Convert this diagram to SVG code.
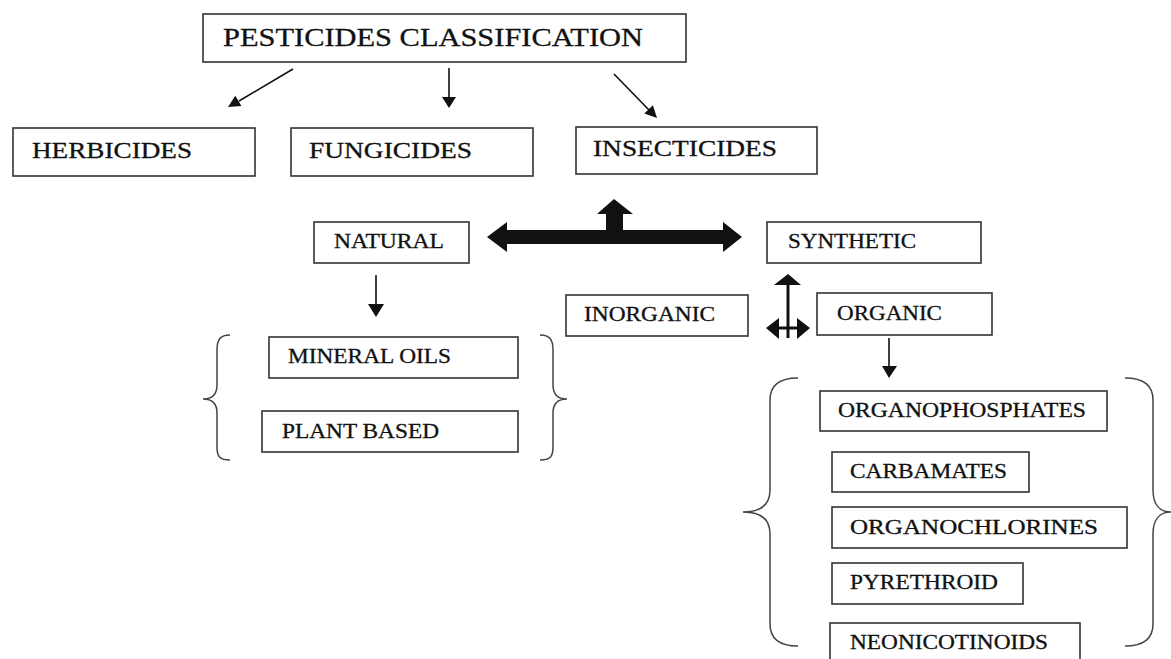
<svg xmlns="http://www.w3.org/2000/svg" width="1171" height="659" viewBox="0 0 1171 659">
<defs>
<style>
.box{fill:#fff;stroke:#333;stroke-width:1.6}
.t{font-family:"Liberation Serif","Times New Roman",serif;fill:#111;stroke:#111;stroke-width:0.3}
.big{font-size:25px}
.mid{font-size:23px}
.sm{font-size:20px}
.ln{stroke:#111;stroke-width:1.6;fill:none}
.br{stroke:#444;stroke-width:1.5;fill:none}
.hd{fill:#111}
</style>
</defs>
<rect width="1171" height="659" fill="#fff"/>
<g id="connectors">
<line class="ln" x1="293" y1="69" x2="239" y2="101"/>
<polygon class="hd" points="228,107 235.3,95.8 241.4,106.1"/>
<line class="ln" x1="449" y1="68" x2="449" y2="98"/>
<polygon class="hd" points="449,108 442,97 456,97"/>
<line class="ln" x1="614" y1="74" x2="649" y2="110"/>
<polygon class="hd" points="657,118 644.3,113.6 652.9,105.2"/>
<polygon class="hd" points="487,237 507,222 507,230 606,230 606,214 597,214 614,199 633,214 623,214 623,230 723,230 723,222 742,237 723,252 723,244 507,244 507,252"/>
<line class="ln" x1="376" y1="275" x2="376" y2="306"/>
<polygon class="hd" points="376,317 368,304 384,304"/>
<line x1="788" y1="284" x2="788" y2="338" stroke="#111" stroke-width="3"/>
<polygon class="hd" points="788,274 774,285 801,285"/>
<line x1="778" y1="328" x2="798" y2="328" stroke="#111" stroke-width="3"/>
<polygon class="hd" points="766,328 779,318 779,339"/>
<polygon class="hd" points="810,328 797,318 797,339"/>
<line class="ln" x1="889" y1="338" x2="889" y2="368"/>
<polygon class="hd" points="889,378 882,366 897,366"/>
<path class="br" d="M230,335 C220,335 217,340 217,350 L217,385 C217,395 212,399 203,399 C212,399 217,403 217,413 L217,447 C217,457 220,460 230,460"/>
<path class="br" d="M540,335 C550,335 553,340 553,350 L553,385 C553,395 558,399 567,399 C558,399 553,403 553,413 L553,447 C553,457 550,460 540,460"/>
<path class="br" d="M798,378 C780,378 770,385 770,400 L770,490 C770,505 760,512 743,512 C760,512 770,519 770,534 L770,624 C770,639 780,646 798,646"/>
<path class="br" d="M1125,378 C1143,378 1153,385 1153,400 L1153,490 C1153,505 1160,512 1171,512 C1160,512 1153,519 1153,534 L1153,624 C1153,639 1143,646 1125,646"/>
</g>
<g id="pesticides"><rect class="box" x="203" y="14" width="483" height="48"/><text class="t big" x="223" y="46" textLength="420" lengthAdjust="spacingAndGlyphs">PESTICIDES CLASSIFICATION</text></g>
<g id="herbicides"><rect class="box" x="13" y="128" width="242" height="48"/><text class="t mid" x="32" y="158" textLength="160" lengthAdjust="spacingAndGlyphs">HERBICIDES</text></g>
<g id="fungicides"><rect class="box" x="291" y="128" width="242" height="48"/><text class="t mid" x="309" y="158" textLength="163" lengthAdjust="spacingAndGlyphs">FUNGICIDES</text></g>
<g id="insecticides"><rect class="box" x="576" y="127" width="241" height="47"/><text class="t mid" x="593" y="156" textLength="184" lengthAdjust="spacingAndGlyphs">INSECTICIDES</text></g>
<g id="natural"><rect class="box" x="314" y="222" width="155" height="41"/><text class="t sm" x="334" y="248" textLength="110" lengthAdjust="spacingAndGlyphs">NATURAL</text></g>
<g id="synthetic"><rect class="box" x="767" y="222" width="214" height="41"/><text class="t sm" x="788" y="248" textLength="128" lengthAdjust="spacingAndGlyphs">SYNTHETIC</text></g>
<g id="inorganic"><rect class="box" x="566" y="295" width="182" height="41"/><text class="t sm" x="584" y="321" textLength="131" lengthAdjust="spacingAndGlyphs">INORGANIC</text></g>
<g id="organic"><rect class="box" x="817" y="293" width="175" height="42"/><text class="t sm" x="837" y="320" textLength="105" lengthAdjust="spacingAndGlyphs">ORGANIC</text></g>
<g id="mineral-oils"><rect class="box" x="269" y="337" width="249" height="41"/><text class="t sm" x="288" y="363" textLength="163" lengthAdjust="spacingAndGlyphs">MINERAL OILS</text></g>
<g id="plant-based"><rect class="box" x="262" y="411" width="256" height="41"/><text class="t sm" x="282" y="438" textLength="157" lengthAdjust="spacingAndGlyphs">PLANT BASED</text></g>
<g id="organophosphates"><rect class="box" x="820" y="391" width="287" height="40"/><text class="t sm" x="838" y="417" textLength="248" lengthAdjust="spacingAndGlyphs">ORGANOPHOSPHATES</text></g>
<g id="carbamates"><rect class="box" x="832" y="452" width="197" height="40"/><text class="t sm" x="850" y="478" textLength="157" lengthAdjust="spacingAndGlyphs">CARBAMATES</text></g>
<g id="organochlorines"><rect class="box" x="832" y="507" width="295" height="41"/><text class="t sm" x="850" y="534" textLength="248" lengthAdjust="spacingAndGlyphs">ORGANOCHLORINES</text></g>
<g id="pyrethroid"><rect class="box" x="832" y="563" width="191" height="41"/><text class="t sm" x="850" y="589" textLength="148" lengthAdjust="spacingAndGlyphs">PYRETHROID</text></g>
<g id="neonicotinoids"><rect class="box" x="830" y="623" width="250" height="50"/><text class="t sm" x="850" y="649" textLength="198" lengthAdjust="spacingAndGlyphs">NEONICOTINOIDS</text></g>
</svg>
